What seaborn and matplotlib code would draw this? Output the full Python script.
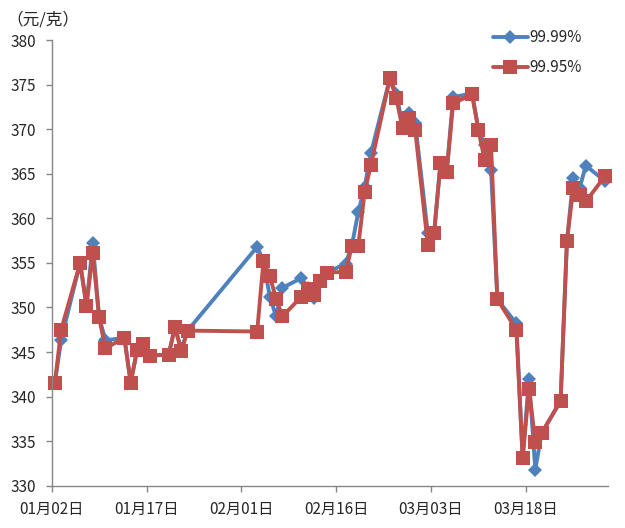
import pandas as pd
import numpy as np
import matplotlib
matplotlib.use("Agg")
import matplotlib.pyplot as plt
import seaborn as sns

# -----------------------------
# Data
# -----------------------------
start = "2015-01-02"
day_offsets = [0, 1, 4, 5, 6, 7, 8, 11, 12, 13, 14, 15, 18, 19, 20, 21,
               32, 33, 34, 35, 36, 39, 40, 41, 42, 43, 46, 47, 48, 49, 50,
               53, 54, 55, 56, 57, 59, 60, 61, 62, 63, 66, 67, 68, 69, 70,
               73, 74, 75, 76, 77, 80, 81, 82, 83, 84, 87]

price_9999 = [341.5, 346.4, 355.0, 350.2, 357.2, 348.9, 346.3, 346.6, 341.6, 345.2,
              345.9, 344.6, 344.7, 347.8, 345.3, 347.4,
              356.8, 355.2, 351.2, 349.0, 352.2, 353.3, 352.2, 351.1, 353.0, 353.9,
              354.9, 357.0, 360.7, 363.5, 367.3,
              375.7, 374.0, 370.5, 371.8, 370.7, 358.3, 358.4, 366.2, 365.4, 373.6,
              374.0, 370.0, 368.2, 365.4, 350.9,
              348.2, 333.1, 342.0, 331.8, 335.9, 339.5, 357.4, 364.5, 363.4, 365.9,
              364.2]

price_9995 = [341.5, 347.5, 355.0, 350.2, 356.1, 348.9, 345.4, 346.6, 341.5, 345.2,
              345.9, 344.6, 344.7, 347.8, 345.1, 347.4,
              347.3, 355.2, 353.5, 351.0, 349.0, 351.2, 352.1, 351.4, 353.0, 353.9,
              354.0, 356.9, 356.9, 362.9, 366.0,
              375.7, 373.5, 370.1, 371.2, 369.9, 357.0, 358.4, 366.2, 365.2, 372.9,
              373.9, 369.9, 366.5, 368.2, 350.9,
              347.5, 333.1, 340.9, 334.9, 335.9, 339.5, 357.4, 363.4, 362.6, 361.9,
              364.7]

series_names = ["99.99%", "99.95%"]
y_ticks = list(range(330, 381, 5))

# Excel date axis puts each point in the middle of its day
dates = pd.Timestamp(start) + pd.to_timedelta(day_offsets, unit="D") + pd.Timedelta(hours=12)

df = pd.DataFrame({"date": dates, series_names[0]: price_9999, series_names[1]: price_9995})

# -----------------------------
# Plot
# -----------------------------
sns.set_style("white")
plt.rcParams["font.family"] = ["Noto Sans CJK SC", "DejaVu Sans"]

fig = plt.figure(figsize=(6.25, 5.28), dpi=100)
ax = fig.add_axes([0.0827, 0.0801, 0.8901, 0.8441])

sns.lineplot(data=df, x="date", y=series_names[0], ax=ax, color="#4F81BD",
             linewidth=2.8, marker="D", markersize=7, markeredgewidth=0,
             label=series_names[0], clip_on=False)
sns.lineplot(data=df, x="date", y=series_names[1], ax=ax, color="#C0504D",
             linewidth=2.8, marker="s", markersize=10, markeredgewidth=0,
             label=series_names[1], clip_on=False)

ax.set_xlim(pd.Timestamp("2015-01-02"), pd.Timestamp("2015-03-31"))
ax.set_ylim(330, 380)
ax.set_yticks(y_ticks)
tick_dates = pd.date_range("2015-01-02", "2015-03-31", freq="15D")
ax.set_xticks(tick_dates)
ax.set_xticklabels([d.strftime("%m月%d日") for d in tick_dates])

ax.set_xlabel("")
ax.set_ylabel("")

for side in ["top", "right"]:
    ax.spines[side].set_visible(False)
for side in ["left", "bottom"]:
    ax.spines[side].set_color("#868686")
    ax.spines[side].set_linewidth(1.0)

ax.tick_params(axis="y", direction="out", length=4, width=1, color="#868686",
               labelsize=11, pad=7, left=True)
ax.tick_params(axis="x", direction="out", length=4, width=1, color="#868686",
               labelsize=11, pad=7, bottom=True)

fig.text(0.01, 1 - 20 / 528, "（元/克）", fontsize=12, va="center", ha="left")

ax.legend(loc="upper left", bbox_to_anchor=(0.768, 1.055), frameon=False,
          fontsize=11, handlelength=2.3, handletextpad=0.1, labelspacing=0.85)

fig.savefig("out.png", dpi=100)
